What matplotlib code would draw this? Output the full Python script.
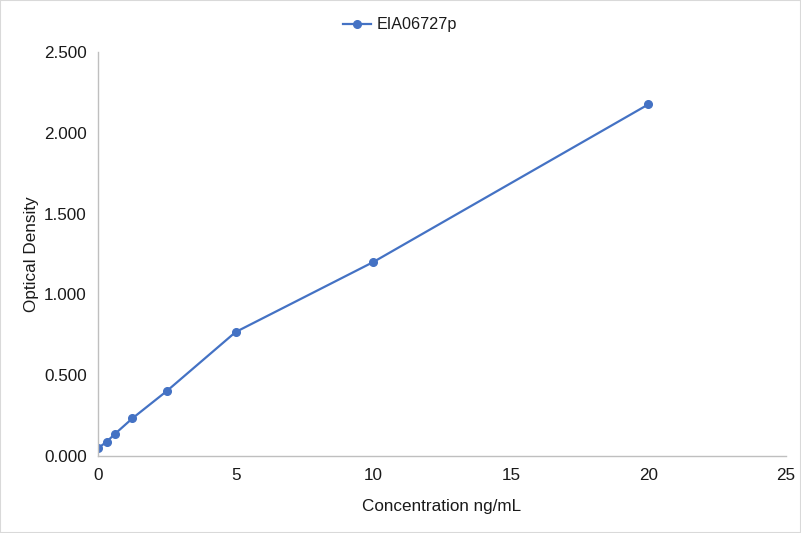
import matplotlib
matplotlib.use("Agg")
import matplotlib.pyplot as plt
from matplotlib.patches import Rectangle

plt.rcParams['font.family'] = ['Liberation Sans', 'DejaVu Sans']

concentration = [0, 0.3125, 0.625, 1.25, 2.5, 5, 10, 20]
optical_density = [0.048, 0.088, 0.138, 0.233, 0.402, 0.767, 1.200, 2.176]
series_name = "EIA06727p"
x_ticks = [0, 5, 10, 15, 20, 25]
y_ticks = [0.0, 0.5, 1.0, 1.5, 2.0, 2.5]

fig = plt.figure(figsize=(8.01, 5.33), dpi=100)
ax = fig.add_axes([98/801, 77/533, 688/801, 404/533])
color = '#4472C4'
txt = '#1A1A1A'
fs = 12.3
ax.plot(concentration, optical_density, color=color, lw=1.6, marker='o', ms=5.5,
        label=series_name)
ax.set_xlim(0, 25)
ax.set_ylim(0, 2.5)
ax.set_xticks(x_ticks)
ax.set_yticks(y_ticks)
ax.set_yticklabels([f"{v:.3f}" for v in y_ticks])
ax.tick_params(axis='both', length=0, labelsize=fs, colors=txt)
ax.tick_params(axis='x', pad=9)
ax.tick_params(axis='y', pad=8)
for s in ['top', 'right']:
    ax.spines[s].set_visible(False)
for s in ['left', 'bottom']:
    ax.spines[s].set_color('#BFBFBF')
    ax.spines[s].set_linewidth(1)
ax.set_xlabel("Concentration ng/mL", fontsize=fs, color=txt, labelpad=11)
ax.set_ylabel("Optical Density", fontsize=fs, color=txt, labelpad=4)
leg = fig.legend(loc='center', bbox_to_anchor=(400/801, 1 - 25/533), frameon=False,
                 fontsize=11.6, handlelength=1.75, handletextpad=0.35, borderaxespad=0)
for t in leg.get_texts():
    t.set_color(txt)
fig.patches.append(Rectangle((0, 0), 1, 1, transform=fig.transFigure,
                             fill=False, edgecolor='#D9D9D9', lw=1.5))
fig.savefig("out.png", dpi=100)
